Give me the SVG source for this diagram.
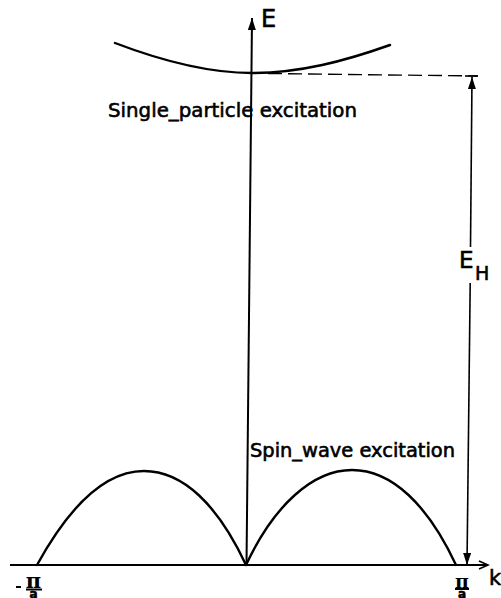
<svg xmlns="http://www.w3.org/2000/svg" width="501" height="598" viewBox="0 0 501 598">
  <defs>
    <marker id="arrowFill" viewBox="0 0 12 8" refX="12" refY="4" markerWidth="12" markerHeight="8" markerUnits="userSpaceOnUse" orient="auto">
      <path d="M0,0 L12,4 L0,8 Z" fill="#000"/>
    </marker>
    <style>
      .curve { fill: none; stroke: #000; stroke-width: 2.4; stroke-linecap: round; }
      .axis { fill: none; stroke: #000; stroke-width: 2; }
      .thin { fill: none; stroke: #000; stroke-width: 1.6; }
      .dash { fill: none; stroke: #000; stroke-width: 1.4; stroke-dasharray: 14 6; }
      .lbl { font-family: "DejaVu Sans", "Liberation Sans", sans-serif; fill: #000; stroke: #000; stroke-width: 0.6; }
      .sym { font-family: "DejaVu Serif", "Liberation Serif", serif; font-weight: bold; fill: #000; }
    </style>
  </defs>
  <rect width="501" height="598" fill="#fff"/>

  <g id="connectors">
    <!-- k axis -->
    <line class="axis" x1="10" y1="565" x2="488" y2="565"/>
    <polyline class="thin" points="479,561 488,565 479,569"/>
    <!-- E axis -->
    <line class="axis" x1="246.5" y1="565" x2="252" y2="18" marker-end="url(#arrowFill)"/>
    <!-- dashed level -->
    <line class="dash" x1="268" y1="73.5" x2="478" y2="76"/>
    <!-- E_H double arrow -->
    <line class="thin" x1="465" y1="76" x2="478" y2="76"/>
    <line class="thin" x1="470.5" y1="247" x2="472" y2="77" marker-end="url(#arrowFill)"/>
    <line class="thin" x1="470.2" y1="283" x2="467" y2="565" marker-end="url(#arrowFill)"/>
  </g>

  <g id="single-particle-band">
    <path class="curve" d="M115,43 C170,64 212,73 252,73 C300,73 345,61 390,45"/>
    <text class="lbl" x="108" y="117" font-size="20" textLength="249" lengthAdjust="spacingAndGlyphs">Single_particle  excitation</text>
  </g>

  <g id="spin-wave-band">
    <path class="curve" d="M37,565 C70,505 105,471 144,471 C183,471 218,505 246,565"/>
    <path class="curve" d="M246,565 C274,505 313,470 352,470 C392,470 428,505 456,565"/>
    <text class="lbl" x="250" y="457" font-size="19" textLength="205" lengthAdjust="spacingAndGlyphs">Spin_wave  excitation</text>
  </g>

  <g id="labels">
    <text class="lbl" x="261" y="27" font-size="24">E</text>
    <text class="lbl" x="459" y="268" font-size="23">E</text>
    <text class="lbl" x="475" y="280" font-size="19">H</text>
    <text class="lbl" x="489" y="585" font-size="21">k</text>
    <!-- -pi/a -->
    <line class="axis" x1="16" y1="587" x2="21" y2="587"/>
    <text class="sym" x="33.5" y="588" font-size="21" text-anchor="middle">π</text>
    <line class="axis" x1="26" y1="589.5" x2="42" y2="589.5"/>
    <text class="lbl" x="33.5" y="598" font-size="12" font-weight="bold" text-anchor="middle">a</text>
    <!-- pi/a -->
    <text class="sym" x="462" y="588" font-size="19" text-anchor="middle">π</text>
    <line class="axis" x1="455" y1="589" x2="469" y2="589"/>
    <text class="lbl" x="462" y="598" font-size="12" font-weight="bold" text-anchor="middle">a</text>
  </g>
</svg>
